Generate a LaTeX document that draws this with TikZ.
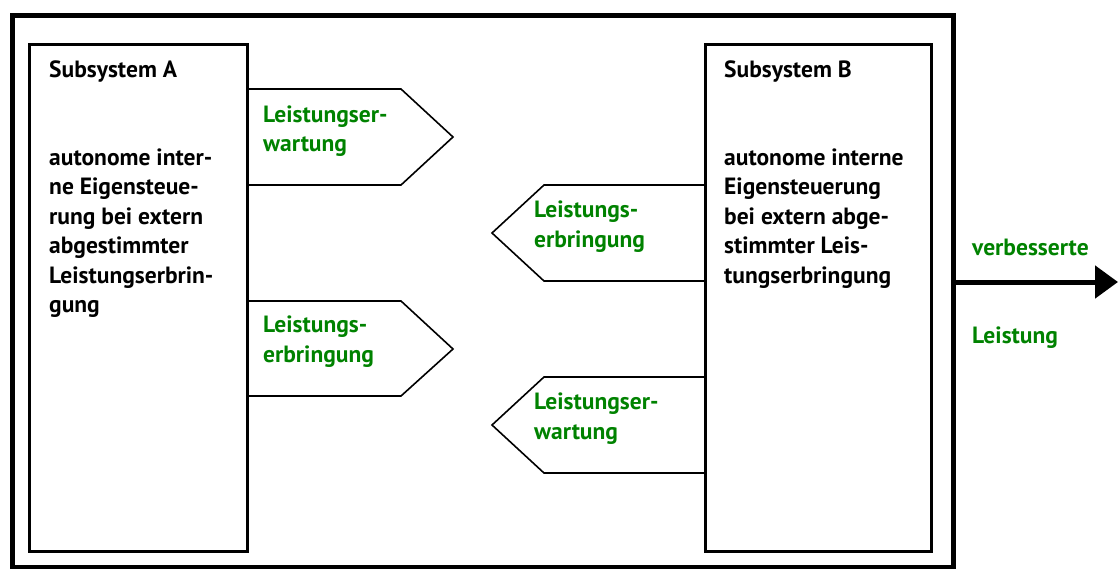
\documentclass[tikz,border=0pt]{standalone}
\usepackage{fontspec}
\setmainfont{PT Sans}[BoldFont={PT Sans Bold}]
\usetikzlibrary{arrows.meta}
\definecolor{lgreen}{RGB}{0,130,0}
\tikzset{
  frame/.style={draw, line width=5pt, minimum width=941pt, minimum height=552pt, inner sep=0pt, anchor=north west},
  subbox/.style={draw, line width=3pt, inner sep=0pt, anchor=north west},
  flow/.style={draw, line width=1.6pt, line join=miter},
  txt/.style={font=\fontsize{23.5}{29.5}\selectfont\bfseries, align=left, inner sep=0pt, anchor=base west},
  gtxt/.style={txt, text=lgreen},
  bigarrow/.style={line width=5pt, -{Triangle[length=23pt,width=32pt]}}
}
\begin{document}
\begin{tikzpicture}[x=1pt,y=-1pt]
\useasboundingbox (0,0) rectangle (1118,568);
\node[frame] (frame) at (9.5,12.5) {};
\node[subbox, minimum width=218pt, minimum height=507pt] (A) at (28,43) {};
\node[subbox, minimum width=226pt, minimum height=507pt] (B) at (704,43) {};
% right-pointing flows from A
\draw[flow] (A.east |- 0,89) -- (401,89) -- (453,137) -- (401,185) -- (A.east |- 0,185);
\draw[flow] (A.east |- 0,301) -- (401,301) -- (453,349) -- (401,396) -- (A.east |- 0,396);
% left-pointing flows from B
\draw[flow] (B.west |- 0,185) -- (544,185) -- (492,233) -- (544,281) -- (B.west |- 0,281);
\draw[flow] (B.west |- 0,377) -- (544,377) -- (492,425) -- (544,473) -- (B.west |- 0,473);
% texts (base anchor = baseline of last line)
\node[txt] (tA) at (49,77) {Subsystem A};
\node[txt] (dA) at (49,312.5) {autonome inter-\\ne Eigensteue-\\rung bei extern\\abgestimmter\\Leistungserbrin-\\gung};
\node[txt] (tB) at (724,77) {Subsystem B};
\node[txt] (dB) at (724,283) {autonome interne\\Eigensteuerung\\bei extern abge-\\stimmter Leis-\\tungserbringung};
\node[gtxt] (f1) at (263,151.7) {Leistungser-\\wartung};
\node[gtxt] (f2) at (263,362) {Leistungs-\\erbringung};
\node[gtxt] (f3) at (534,247) {Leistungs-\\erbringung};
\node[gtxt] (f4) at (534,439) {Leistungser-\\wartung};
\node[gtxt] (o1) at (972,255) {verbesserte};
\node[gtxt] (o2) at (972,343) {Leistung};
\coordinate (aend) at (1118,282);
\draw[bigarrow] (frame.east |- aend) -- (aend);
\end{tikzpicture}
\end{document}
